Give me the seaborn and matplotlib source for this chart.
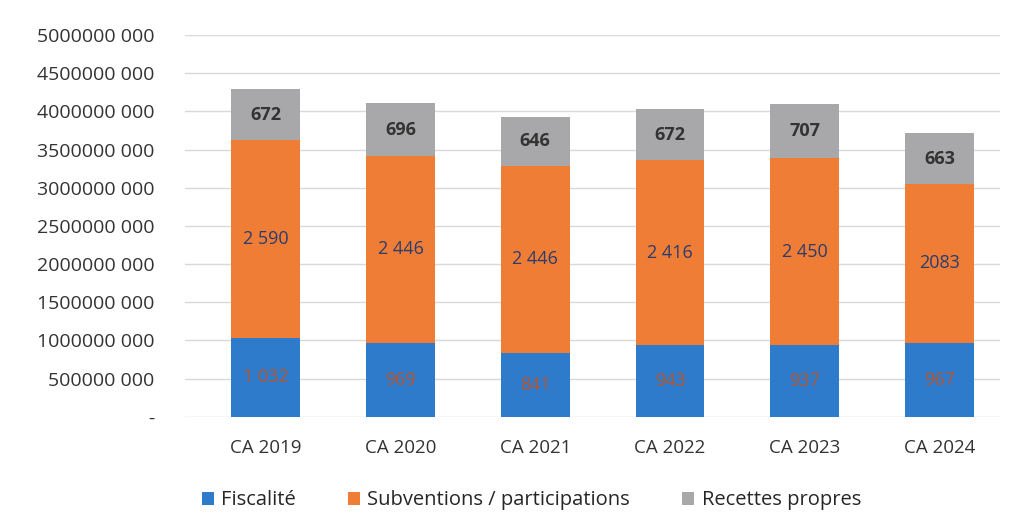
import numpy as np
import pandas as pd
import matplotlib
matplotlib.use("Agg")
import matplotlib.pyplot as plt
import seaborn as sns

# Data (k€)
years = ["CA 2019", "CA 2020", "CA 2021", "CA 2022", "CA 2023", "CA 2024"]
fiscalite = [1032, 969, 841, 943, 937, 967]
subventions = [2590, 2446, 2446, 2416, 2450, 2083]
recettes = [672, 696, 646, 672, 707, 663]
fisc_labels = ["1 032", "969", "841", "943", "937", "967"]
subv_labels = ["2 590", "2 446", "2 446", "2 416", "2 450", "2083"]
rec_labels = ["672", "696", "646", "672", "707", "663"]
ytick_vals = [0, 500, 1000, 1500, 2000, 2500, 3000, 3500, 4000, 4500, 5000]
ytick_labels = ["-", "500000 000", "1000000 000", "1500000 000", "2000000 000",
                "2500000 000", "3000000 000", "3500000 000", "4000000 000",
                "4500000 000", "5000000 000"]

df = pd.DataFrame({"annee": years, "fisc": fiscalite, "subv": subventions, "rec": recettes})
df["cum2"] = df["fisc"] + df["subv"]
df["cum3"] = df["cum2"] + df["rec"]

c_blue = "#2E7BCB"
c_orange = "#EF7D35"
c_gray = "#A8A8AA"

sns.set_theme(style="white")
plt.rcParams["font.family"] = ["Open Sans", "DejaVu Sans"]

fig = plt.figure(figsize=(10.27, 5.31), dpi=100)
ax = fig.add_axes([0.18, 0.215, 0.794, 0.719])

# stacked bars drawn as cumulative totals, top layer first
sns.barplot(data=df, x="annee", y="cum3", color=c_gray, width=0.51, ax=ax,
            label="Recettes propres", saturation=1, linewidth=0)
sns.barplot(data=df, x="annee", y="cum2", color=c_orange, width=0.51, ax=ax,
            label="Subventions / participations", saturation=1, linewidth=0)
sns.barplot(data=df, x="annee", y="fisc", color=c_blue, width=0.51, ax=ax,
            label="Fiscalité", saturation=1, linewidth=0)

# labels in segments
for i in range(len(years)):
    ax.text(i, df["fisc"][i] / 2, fisc_labels[i], ha="center", va="center",
            fontsize=13, color="#B5552E")
    ax.text(i, df["fisc"][i] + df["subv"][i] / 2, subv_labels[i], ha="center", va="center",
            fontsize=13, color="#2B3C6E")
    ax.text(i, df["cum2"][i] + df["rec"][i] / 2, rec_labels[i], ha="center", va="center",
            fontsize=13, color="#333333", fontweight="bold")

ax.set_ylim(0, 5000)
ax.set_yticks(ytick_vals)
ax.set_yticklabels(ytick_labels, fontsize=14, color="#333333")
ax.tick_params(axis="x", labelsize=13.5, colors="#333333", pad=10)
ax.tick_params(axis="y", pad=16)
ax.set_xlabel("")
ax.set_ylabel("")
ax.set_xlim(-0.6, 5.45)
ax.yaxis.grid(True, color="#D9D9D9", linewidth=1)
ax.set_axisbelow(True)
for s in ax.spines.values():
    s.set_visible(False)

h, l = ax.get_legend_handles_labels()
order = [2, 1, 0]
ax.legend([h[k] for k in order], [l[k] for k in order], loc="upper center",
          bbox_to_anchor=(0.425, -0.145), ncol=3, frameon=False, fontsize=14.5,
          handlelength=0.6, handleheight=0.6, columnspacing=2.6, handletextpad=0.35)

plt.savefig("out.png", dpi=100)
